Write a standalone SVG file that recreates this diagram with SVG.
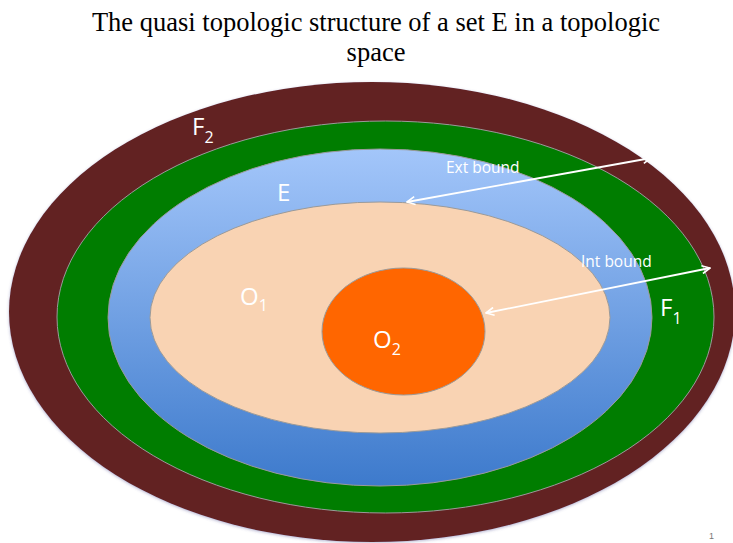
<svg xmlns="http://www.w3.org/2000/svg" width="733" height="543" viewBox="0 0 733 543">
<defs>
<linearGradient id="blueGrad" x1="0" y1="0" x2="0" y2="1">
<stop offset="0" stop-color="#a3c6fa"/>
<stop offset="1" stop-color="#3d7acc"/>
</linearGradient>
<filter id="shadow" x="-5%" y="-5%" width="110%" height="110%">
<feDropShadow dx="0" dy="1" stdDeviation="1.5" flood-color="#5a5a9a" flood-opacity="0.45"/>
</filter>
<marker id="ah" viewBox="0 0 10 10" refX="9" refY="5" markerWidth="10" markerHeight="10" markerUnits="userSpaceOnUse" orient="auto-start-reverse">
<path d="M1,1 L9,5 L1,9" fill="none" stroke="#ffffff" stroke-width="1.6"/>
</marker>
</defs>
<style>
.title{font-family:"Liberation Serif","Times New Roman",serif;font-size:26.5px;fill:#000;text-anchor:middle}
.lbl{font-family:"Open Sans","Liberation Sans",sans-serif;fill:#ffffff}
.big{font-size:24px}
.sub{font-size:16px}
.small{font-size:15.5px}
.ring{stroke:#9a9a9a;stroke-width:1}
.conn{stroke:#ffffff;stroke-width:1.8;fill:none;marker-start:url(#ah);marker-end:url(#ah)}
</style>
<rect width="733" height="543" fill="#ffffff"/>
<text class="title" x="376" y="31">The quasi topologic structure of a set E in a topologic</text>
<text class="title" x="376" y="61">space</text>
<g id="F2">
<ellipse cx="372" cy="312" rx="363" ry="230" fill="#622424" filter="url(#shadow)"/>
<text class="lbl big" x="192" y="135">F<tspan class="sub" dy="8">2</tspan></text>
</g>
<g id="F1">
<ellipse class="ring" cx="385.5" cy="317" rx="328.5" ry="196" fill="#007d00"/>
<text class="lbl big" x="660" y="316">F<tspan class="sub" dy="8">1</tspan></text>
</g>
<g id="E">
<ellipse class="ring" cx="380" cy="317.5" rx="272" ry="168.5" fill="url(#blueGrad)"/>
<text class="lbl big" x="277" y="201">E</text>
</g>
<g id="O1">
<ellipse class="ring" cx="380" cy="317.5" rx="230" ry="115.5" fill="#f9d3b3"/>
<text class="lbl big" x="240" y="305">O<tspan class="sub" dy="6">1</tspan></text>
</g>
<g id="O2">
<ellipse class="ring" cx="403.5" cy="331.5" rx="81.5" ry="63.5" fill="#ff6600"/>
<text class="lbl big" x="373" y="348">O<tspan class="sub" dy="7">2</tspan></text>
</g>
<g id="connectors">
<line class="conn" x1="407" y1="202" x2="651" y2="158"/>
<text class="lbl small" x="446" y="173">Ext bound</text>
<line class="conn" x1="486" y1="313" x2="710" y2="268"/>
<text class="lbl small" x="581" y="267">Int bound</text>
</g>
<text x="709" y="539" font-family="Liberation Sans, sans-serif" font-size="9" fill="#777777">1</text>
</svg>
